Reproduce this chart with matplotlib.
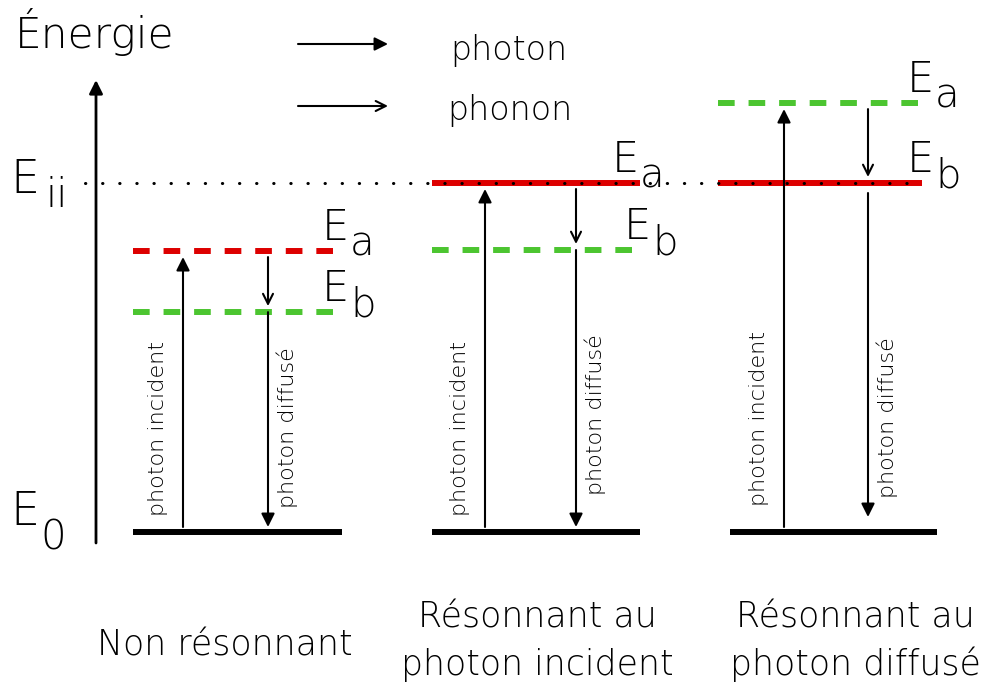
import matplotlib.pyplot as plt

# energy levels (E0 = 0, Eii = 1)
E0 = 0.0
Eii = 1.0
panels = ["Non résonnant", "Résonnant au\nphoton incident", "Résonnant au\nphoton diffusé"]
Ea = [0.805, 1.0, 1.229]
Eb = [0.63, 0.808, 1.0]
Ea_dashed = [True, False, True]
Eb_dashed = [True, True, False]

# layout (pixels)
level_x = [(133, 342), (432, 640), (718, 922)]
ground_x = [(133, 342), (432, 640), (730, 937)]
inc_x = [183, 485, 784]
dif_x = [268, 576, 868]
ea_lab_x = [322, 612, 907]
eb_lab_x = [322, 624, 907]
inc_txt_y = [428, 428, 418]
dif_txt_y = [428, 415, 418]
caption_x = [225, 537, 855]

RED = "#dd0000"
GREEN = "#4cc530"
FONT = "DejaVu Sans"
W = "light"


def pix(y):
    # pixel row -> energy units
    return (532 - y) / 349


fig = plt.figure(figsize=(9.84, 6.9), dpi=100)
ax = fig.add_axes([0, 0, 1, 1])
ax.set_xlim(0, 984)
ax.set_ylim(pix(690), pix(0))
ax.axis("off")

px = 1 / 349


def arrow(x0, y0, x1, y1, style, ms=20, lw=1.5):
    ax.annotate("", xy=(x1, y1), xytext=(x0, y0),
                arrowprops=dict(arrowstyle=style, lw=lw, color="black",
                                shrinkA=0, shrinkB=0, mutation_scale=ms))


def txt(x, y, s, size, **kw):
    ax.text(x, pix(y), s, fontsize=size, family=FONT, fontweight=W,
            va=kw.pop("va", "baseline"), **kw)


# energy axis
arrow(96, pix(543), 96, pix(80), "-|>", lw=2)
txt(15, 48, "Énergie", 30.5)
txt(10, 193, "E", 33)
txt(45, 207, "ii", 29)
txt(10, 525, "E", 33)
txt(40, 550, "0", 29)

# legend
arrow(298, pix(44), 388, pix(44), "-|>")
arrow(298, pix(106), 388, pix(106), "->", ms=18)
txt(450, 60, "photon", 24)
txt(447, 120, "phonon", 24)

lw = 4.3
dash = (0, (12 / lw, 10 / lw))

for i in range(3):
    gx0, gx1 = ground_x[i]
    lx0, lx1 = level_x[i]
    ax.plot([gx0, gx1], [E0, E0], color="black", lw=lw, solid_capstyle="butt")
    ax.plot([lx0, lx1], [Ea[i], Ea[i]], color=RED if i < 2 else GREEN, lw=lw,
            linestyle=dash if Ea_dashed[i] else "-", solid_capstyle="butt")
    ax.plot([lx0, lx1], [Eb[i], Eb[i]], color=GREEN if i < 2 else RED, lw=lw,
            linestyle=dash if Eb_dashed[i] else "-", solid_capstyle="butt")

    # labels E_a, E_b
    for lev, lx, sub in [(Ea[i], ea_lab_x[i], "a"), (Eb[i], eb_lab_x[i], "b")]:
        ax.text(lx, lev + 11 * px, "E", fontsize=31, family=FONT, fontweight=W,
                va="baseline")
        ax.text(lx + 28, lev - 4 * px, sub, fontsize=29, family=FONT,
                fontweight=W, va="baseline")

    # photon incident
    arrow(inc_x[i], E0 + 5 * px, inc_x[i], Ea[i] - 6 * px, "-|>")
    # phonon
    arrow(dif_x[i], Ea[i] - 6 * px, dif_x[i], Eb[i] + 6 * px, "->", ms=18)
    # photon diffuse
    start = Eb[i] - (10 * px if i == 2 else 0)
    end = E0 + (15 * px if i == 2 else 5 * px)
    arrow(dif_x[i], start, dif_x[i], end, "-|>")

    ax.text(inc_x[i] - 25, pix(inc_txt_y[i]), "photon incident", rotation=90,
            fontsize=16, family=FONT, fontweight=W, ha="center", va="center")
    ax.text(dif_x[i] + 19, pix(dif_txt_y[i]), "photon diffusé", rotation=90,
            fontsize=16, family=FONT, fontweight=W, ha="center", va="center")

    # panel caption
    lines = panels[i].split("\n")
    if len(lines) == 1:
        txt(caption_x[i], 655, lines[0], 25, ha="center")
    else:
        txt(caption_x[i], 628, lines[0], 25, ha="center")
        txt(caption_x[i], 675, lines[1], 25, ha="center")

# Eii dotted reference line
ax.plot([85, 920], [Eii, Eii], color="black", lw=2.2, linestyle=(0, (0.1, 5.5)),
        dash_capstyle="round", zorder=5)

fig.savefig("out.png", dpi=100)
